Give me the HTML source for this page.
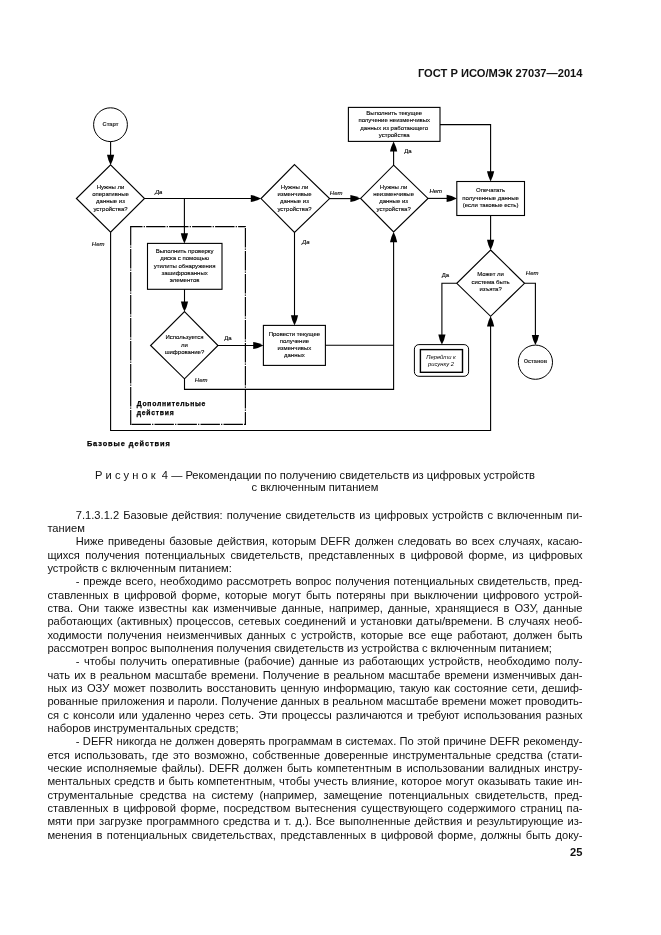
<!DOCTYPE html>
<html><head><meta charset="utf-8">
<style>
html,body{margin:0;padding:0;background:#fff;}
body{width:661px;height:935px;position:relative;overflow:hidden;will-change:transform;font-family:"Liberation Sans",sans-serif;color:#111;}
.hdr{position:absolute;right:78.5px;top:66px;font-weight:bold;font-size:11.15px;line-height:14px;white-space:nowrap;}
.pn{position:absolute;right:78.5px;top:845px;font-weight:bold;font-size:11.15px;line-height:14px;}
.cap{position:absolute;left:47px;width:536px;text-align:center;font-size:11.15px;line-height:13px;white-space:nowrap;}
.ln{position:absolute;left:47.4px;width:535.2px;font-size:11.15px;line-height:13px;white-space:nowrap;text-align:justify;text-align-last:justify;}
.ln.l{text-align:left;text-align-last:left;}
.ind{padding-left:28.4px;box-sizing:border-box;}
svg{position:absolute;left:0;top:0;}
svg text{font-family:"Liberation Sans",sans-serif;}
</style></head><body>
<div class="hdr">ГОСТ Р ИСО/МЭК 27037—2014</div>
<svg width="661" height="935" viewBox="0 0 661 935">
<g fill="none" stroke="#000" stroke-width="1.1">
<circle cx="110.5" cy="124.7" r="16.9" stroke-width="1"/>
<circle cx="535.4" cy="362.2" r="17.1" stroke-width="1"/>
<path stroke-width="1.15" d="M110.60,164.90 L144.50,198.50 L110.60,232.20 L76.40,198.50 Z"/>
<path stroke-width="1.15" d="M184.50,311.60 L218.00,345.50 L184.50,378.80 L150.60,345.50 Z"/>
<path stroke-width="1.15" d="M294.50,164.60 L329.60,198.60 L294.50,232.50 L261.00,198.60 Z"/>
<path stroke-width="1.15" d="M393.60,165.20 L428.00,198.40 L393.60,232.00 L360.60,198.40 Z"/>
<path stroke-width="1.15" d="M490.60,250.00 L524.50,283.30 L490.60,316.30 L456.80,283.30 Z"/>
<rect x="147.50" y="243.40" width="74.50" height="45.90"/>
<rect x="263.40" y="325.40" width="62.00" height="40.00"/>
<rect x="348.40" y="107.40" width="91.60" height="34.00"/>
<rect x="456.80" y="181.50" width="67.70" height="34.00"/>
<rect x="414.40" y="344.60" width="54.20" height="31.70" rx="4.5" stroke-width="1.0"/>
<rect x="420.40" y="349.60" width="42.10" height="22.70" stroke-width="1.4"/>
<g stroke-width="1.15" stroke-dasharray="19.4,1.2,1.2,1.2"><path d="M130.7,226.6 H245.4" stroke-dashoffset="7.6"/><path d="M130.7,424.4 H245.4" stroke-dashoffset="-0.8"/><path d="M130.7,226.0 V425" stroke-dashoffset="0"/><path d="M245.4,226.0 V425" stroke-dashoffset="-2"/></g>
<path d="M110.6,141.4 V160"/>
<path d="M144.5,198.5 H255"/>
<path d="M184.4,198.5 V238"/>
<path d="M184.5,289.3 V306"/>
<path d="M218,345.5 H257"/>
<path d="M184.5,378.8 V389.4 H394"/>
<path d="M325.4,345.2 H394"/>
<path d="M393.6,389.95 V238"/>
<path d="M294.5,232.5 V320"/>
<path d="M329.6,198.6 H355"/>
<path d="M393.6,165.2 V147"/>
<path d="M440,124.6 H490.6 V176"/>
<path d="M428,198.4 H451"/>
<path d="M490.6,215.5 V245"/>
<path d="M456.8,283.3 H441.9 V339"/>
<path d="M524.5,283.3 H535.4 V340"/>
<path d="M110.6,232.2 V430.5 H490.6 V322"/>
</g>
<g fill="#000" stroke="none">
<path d="M107.00,154.70 L114.20,154.70 Q113.30,159.80 110.60,164.90 Q107.90,159.80 107.00,154.70 Z"/>
<path d="M250.80,194.90 L250.80,202.10 Q255.90,201.20 261.00,198.50 Q255.90,195.80 250.80,194.90 Z"/>
<path d="M180.80,233.20 L188.00,233.20 Q187.10,238.30 184.40,243.40 Q181.70,238.30 180.80,233.20 Z"/>
<path d="M180.90,301.40 L188.10,301.40 Q187.20,306.50 184.50,311.60 Q181.80,306.50 180.90,301.40 Z"/>
<path d="M253.20,341.90 L253.20,349.10 Q258.30,348.20 263.40,345.50 Q258.30,342.80 253.20,341.90 Z"/>
<path d="M390.00,242.20 L397.20,242.20 Q396.30,237.10 393.60,232.00 Q390.90,237.10 390.00,242.20 Z"/>
<path d="M290.90,315.20 L298.10,315.20 Q297.20,320.30 294.50,325.40 Q291.80,320.30 290.90,315.20 Z"/>
<path d="M350.40,194.90 L350.40,202.10 Q355.50,201.20 360.60,198.50 Q355.50,195.80 350.40,194.90 Z"/>
<path d="M390.00,151.60 L397.20,151.60 Q396.30,146.50 393.60,141.40 Q390.90,146.50 390.00,151.60 Z"/>
<path d="M487.00,171.30 L494.20,171.30 Q493.30,176.40 490.60,181.50 Q487.90,176.40 487.00,171.30 Z"/>
<path d="M446.60,194.80 L446.60,202.00 Q451.70,201.10 456.80,198.40 Q451.70,195.70 446.60,194.80 Z"/>
<path d="M487.00,239.80 L494.20,239.80 Q493.30,244.90 490.60,250.00 Q487.90,244.90 487.00,239.80 Z"/>
<path d="M438.30,334.40 L445.50,334.40 Q444.60,339.50 441.90,344.60 Q439.20,339.50 438.30,334.40 Z"/>
<path d="M531.80,334.90 L539.00,334.90 Q538.10,340.00 535.40,345.10 Q532.70,340.00 531.80,334.90 Z"/>
<path d="M487.00,326.50 L494.20,326.50 Q493.30,321.40 490.60,316.30 Q487.90,321.40 487.00,326.50 Z"/>
</g>
<g font-size="6" fill="#000" stroke="#000" stroke-width="0.12" text-anchor="middle">
<text x="110.60" y="125.80" font-weight="bold" fill="#444" font-size="5.6">Старт</text>
<text x="535.40" y="362.80" font-weight="bold" fill="#444" font-size="5.6">Останов</text>
<text x="110.50" y="188.80">Нужны ли</text>
<text x="110.50" y="196.05">оперативные</text>
<text x="110.50" y="203.30">данные из</text>
<text x="110.50" y="210.55">устройства?</text>
<text x="294.50" y="188.80">Нужны ли</text>
<text x="294.50" y="196.05">изменчивые</text>
<text x="294.50" y="203.30">данные из</text>
<text x="294.50" y="210.55">устройства?</text>
<text x="393.60" y="188.80">Нужны ли</text>
<text x="393.60" y="196.05">неизменчивые</text>
<text x="393.60" y="203.30">данные из</text>
<text x="393.60" y="210.55">устройства?</text>
<text x="184.50" y="338.60">Используется</text>
<text x="184.50" y="346.60">ли</text>
<text x="184.50" y="353.90">шифрование?</text>
<text x="490.60" y="276.40">Может ли</text>
<text x="490.60" y="283.70">система быть</text>
<text x="490.60" y="291.00">изъята?</text>
<text x="184.60" y="252.90">Выполнить проверку</text>
<text x="184.60" y="260.20">диска с помощью</text>
<text x="184.60" y="267.50">утилиты обнаружения</text>
<text x="184.60" y="274.80">зашифрованных</text>
<text x="184.60" y="282.10">элементов</text>
<text x="294.40" y="335.60">Провести текущее</text>
<text x="294.40" y="342.80">получение</text>
<text x="294.40" y="350.00">изменчивых</text>
<text x="294.40" y="357.20">данных</text>
<text x="394.20" y="115.00">Выполнить текущее</text>
<text x="394.20" y="122.30">получение неизменчивых</text>
<text x="394.20" y="129.60">данных из работающего</text>
<text x="394.20" y="136.90">устройства</text>
<text x="490.60" y="192.30">Опечатать</text>
<text x="490.60" y="199.80">полученные данные</text>
<text x="490.60" y="207.30">(если таковые есть)</text>
<text x="441.00" y="358.90" font-style="italic" stroke="none" font-size="5.8">Перейти к</text>
<text x="441.00" y="365.90" font-style="italic" stroke="none" font-size="5.8">рисунку 2</text>
</g>
<g font-size="6" fill="#000" stroke="#000" stroke-width="0.12">
<text x="154.90" y="193.60" font-style="italic">Да</text>
<text x="91.80" y="245.80" font-style="italic">Нет</text>
<text x="224.30" y="340.20">Да</text>
<text x="194.80" y="381.80" font-style="italic">Нет</text>
<text x="329.80" y="194.80" font-style="italic">Нет</text>
<text x="302.00" y="244.40" font-style="italic">Да</text>
<text x="404.30" y="152.60">Да</text>
<text x="429.40" y="192.80" font-style="italic">Нет</text>
<text x="441.70" y="277.20">Да</text>
<text x="525.80" y="274.90" font-style="italic">Нет</text>
</g>
<g font-size="7.4" font-weight="bold" fill="#000" stroke="#000" stroke-width="0.25" letter-spacing="0.8">
<text x="136.80" y="405.80" font-size="6.8" letter-spacing="0.73">Дополнительные</text>
<text x="136.80" y="414.70" font-size="6.8" letter-spacing="0.73">действия</text>
<text x="86.90" y="445.80" font-size="7.4" letter-spacing="0.92">Базовые действия</text>
</g>
</svg>
<div class="cap" style="top:469.3px;">Р и с у н о к&nbsp; 4 — Рекомендации по получению свидетельств из цифровых устройств</div>
<div class="cap" style="top:480.8px;">с включенным питанием</div>
<div class="ln ind" style="top:508.80px">7.1.3.1.2 Базовые действия: получение свидетельств из цифровых устройств с включенным пи-</div>
<div class="ln l" style="top:522.12px">танием</div>
<div class="ln ind" style="top:535.45px">Ниже приведены базовые действия, которым DEFR должен следовать во всех случаях, касаю-</div>
<div class="ln" style="top:548.77px">щихся получения потенциальных свидетельств, представленных в цифровой форме, из цифровых</div>
<div class="ln l" style="top:562.10px">устройств с включенным питанием:</div>
<div class="ln ind" style="top:575.42px">- прежде всего, необходимо рассмотреть вопрос получения потенциальных свидетельств, пред-</div>
<div class="ln" style="top:588.75px">ставленных в цифровой форме, которые могут быть потеряны при выключении цифрового устрой-</div>
<div class="ln" style="top:602.08px">ства. Они также известны как изменчивые данные, например, данные, хранящиеся в ОЗУ, данные</div>
<div class="ln" style="top:615.40px">работающих (активных) процессов, сетевых соединений и установки даты/времени. В случаях необ-</div>
<div class="ln" style="top:628.73px">ходимости получения неизменчивых данных с устройств, которые все еще работают, должен быть</div>
<div class="ln l" style="top:642.05px">рассмотрен вопрос выполнения получения свидетельств из устройства с включенным питанием;</div>
<div class="ln ind" style="top:655.38px">- чтобы получить оперативные (рабочие) данные из работающих устройств, необходимо полу-</div>
<div class="ln" style="top:668.70px">чать их в реальном масштабе времени. Получение в реальном масштабе времени изменчивых дан-</div>
<div class="ln" style="top:682.02px">ных из ОЗУ может позволить восстановить ценную информацию, такую как состояние сети, дешиф-</div>
<div class="ln" style="top:695.35px">рованные приложения и пароли. Получение данных в реальном масштабе времени может проводить-</div>
<div class="ln" style="top:708.67px">ся с консоли или удаленно через сеть. Эти процессы различаются и требуют использования разных</div>
<div class="ln l" style="top:722.00px">наборов инструментальных средств;</div>
<div class="ln ind" style="top:735.33px">- DEFR никогда не должен доверять программам в системах. По этой причине DEFR рекоменду-</div>
<div class="ln" style="top:748.65px">ется использовать, где это возможно, собственные доверенные инструментальные средства (стати-</div>
<div class="ln" style="top:761.98px">ческие исполняемые файлы). DEFR должен быть компетентным в использовании валидных инстру-</div>
<div class="ln" style="top:775.30px">ментальных средств и быть компетентным, чтобы учесть влияние, которое могут оказывать такие ин-</div>
<div class="ln" style="top:788.62px">струментальные средства на систему (например, замещение потенциальных свидетельств, пред-</div>
<div class="ln" style="top:801.95px">ставленных в цифровой форме, посредством вытеснения существующего содержимого страниц па-</div>
<div class="ln" style="top:815.27px">мяти при загрузке программного средства и т. д.). Все выполненные действия и результирующие из-</div>
<div class="ln" style="top:828.60px">менения в потенциальных свидетельствах, представленных в цифровой форме, должны быть доку-</div>
<div class="pn">25</div>
</body></html>
